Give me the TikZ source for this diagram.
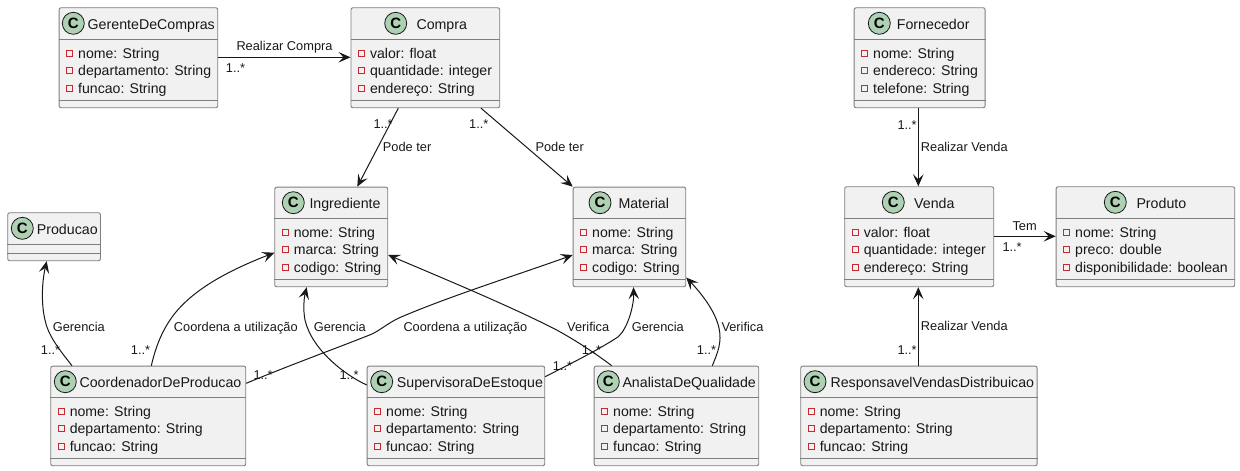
\documentclass[tikz,border=0pt]{standalone}
\usepackage{fontspec}
\setmainfont{Liberation Sans}
\newfontfamily\umlfont{Liberation Sans}
\usetikzlibrary{arrows.meta}
\definecolor{boxfill}{HTML}{F1F1F1}
\definecolor{boxline}{HTML}{7E7E7E}
\definecolor{ink}{HTML}{181818}
\definecolor{spot}{HTML}{ADD1B2}
\definecolor{vis}{HTML}{C82930}
\tikzset{
  umlbox/.style={draw=boxline,fill=boxfill,line width=.9pt,rounded corners=2pt,inner sep=0pt,anchor=north west},
  spotc/.style={circle,draw=ink,fill=spot,line width=.8pt,minimum size=22pt,inner sep=0pt,font=\umlfont\bfseries\fontsize{15}{15}\selectfont,text=black},
  titletext/.style={anchor=base west,inner sep=0pt,text=ink,font=\umlfont\fontsize{14.2}{14}\selectfont},
  membertext/.style={anchor=base west,inner sep=0pt,text=ink,font=\umlfont\fontsize{14.1}{14}\selectfont},
  visicon/.style={draw=vis,line width=.9pt,rectangle,minimum size=5.6pt,inner sep=0pt},
  lbl/.style={anchor=base west,inner sep=0pt,text=ink,font=\umlfont\fontsize{12.8}{13}\selectfont},
  assoc/.style={draw=ink,line width=1pt,-{Stealth[length=12pt,width=10.5pt,inset=5pt]}},
  seprule/.style={draw=boxline,line width=.9pt}
}
% name, x1, y1, x2, y2, spot centre x, title x, title
\newcommand{\umlclass}[8]{%
  \node[umlbox,minimum width={(#4-#2)*1pt},minimum height={(#5-#3)*1pt}] (#1) at (#2,#3) {};
  \draw[seprule] ([yshift=-32pt]#1.north west) -- ([yshift=-32pt]#1.north east);
  \draw[seprule] ([yshift=8pt]#1.south west) -- ([yshift=8pt]#1.south east);
  \node[spotc] (#1-spot) at (#6,#3+16) {C};
  \node[titletext] (#1-title) at (#7,#3+21.8) {#8};
}
% name, row suffix, offset from top to icon centre, offset to baseline, text
\newcommand{\umlmember}[5]{%
  \node[visicon] (#1-i#2) at ([shift={(11,#3)}]#1.north west) {};
  \node[membertext] (#1-m#2) at ([shift={(19.3,#4)}]#1.north west) {#5};
}
\newcommand{\threemembers}[4]{%
  \umlmember{#1}{a}{46}{51}{#2}
  \umlmember{#1}{b}{63}{67.8}{#3}
  \umlmember{#1}{c}{81}{86}{#4}
}
\begin{document}
\begin{tikzpicture}[x=1pt,y=-1pt]
\useasboundingbox (0,0) rectangle (1240,471);

\umlclass{gerente}{58.7}{7.3}{217.3}{107.3}{73.3}{87.5}{GerenteDeCompras}
\threemembers{gerente}{nome: String}{departamento: String}{funcao: String}
\umlclass{compra}{350.5}{7.3}{499.3}{107.3}{395.7}{416.3}{Compra}
\threemembers{compra}{valor: float}{quantidade: integer}{endereço: String}
\umlclass{fornecedor}{853.7}{7.3}{984.7}{107.3}{879.3}{896.7}{Fornecedor}
\threemembers{fornecedor}{nome: String}{endereco: String}{telefone: String}
\umlclass{producao}{7.3}{212.3}{100}{260.3}{22.3}{36.7}{Producao}
\umlclass{ingrediente}{274.3}{186.7}{387.3}{286.3}{293.3}{309.3}{Ingrediente}
\threemembers{ingrediente}{nome: String}{marca: String}{codigo: String}
\umlclass{material}{572.7}{186.7}{685.3}{286.3}{600}{618.3}{Material}
\threemembers{material}{nome: String}{marca: String}{codigo: String}
\umlclass{venda}{844.3}{186.3}{993.3}{286.3}{893.3}{914}{Venda}
\threemembers{venda}{valor: float}{quantidade: integer}{endereço: String}
\umlclass{produto}{1055.7}{186.3}{1234.3}{286.3}{1115.3}{1136.3}{Produto}
\threemembers{produto}{nome: String}{preco: double}{disponibilidade: boolean}
\umlclass{coord}{50.3}{365.7}{245.3}{465.3}{65.3}{79.3}{CoordenadorDeProducao}
\threemembers{coord}{nome: String}{departamento: String}{funcao: String}
\umlclass{superv}{366.7}{365.7}{544.3}{465.3}{381.7}{396.7}{SupervisoraDeEstoque}
\threemembers{superv}{nome: String}{departamento: String}{funcao: String}
\umlclass{analista}{593.7}{365.7}{758.3}{465.3}{608.3}{622.3}{AnalistaDeQualidade}
\threemembers{analista}{nome: String}{departamento: String}{funcao: String}
\umlclass{resp}{800.3}{365.7}{1036.7}{465.3}{815}{830.3}{ResponsavelVendasDistribuicao}
\threemembers{resp}{nome: String}{departamento: String}{funcao: String}

% connectors
\draw[assoc] ([yshift=-50pt]gerente.north east) -- ([yshift=-50pt]compra.north west);
\draw[assoc] ([xshift=47.8pt]compra.south west) -- ([xshift=83pt]ingrediente.north west);
\draw[assoc] ([xshift=130.5pt]compra.south west) -- (material.north west);
\draw[assoc] ([xshift=64.6pt]fornecedor.south west) -- ([xshift=74pt]venda.north west);
\draw[assoc] ([yshift=-50pt]venda.north east) -- ([yshift=-50pt]produto.north west);
\draw[assoc] ([xshift=118pt]resp.north west) -- ([xshift=74pt]venda.south west);

\draw[assoc] ([xshift=21.7pt]coord.north west) .. controls (58,348) and (48,335) .. (45,320) .. controls (41,303) and (42,282) .. ([xshift=39.4pt]producao.south west);
\draw[assoc] ([xshift=101pt]coord.north west) .. controls (155,350) and (160,335) .. (170,320) .. controls (190,290) and (230,270) .. ([yshift=-66pt]ingrediente.north west);
\draw[assoc] ([yshift=-17.6pt]coord.north east) .. controls (290,365) and (345,345) .. (372,334) .. controls (382,329) and (388,323) .. (400,317.5) .. controls (450,296) and (520,274) .. ([yshift=-68.3pt]material.north west);
\draw[assoc] ([yshift=-19.3pt]superv.north west) .. controls (345,375) and (312,350) .. (305,320) .. controls (303,310) and (304,298) .. ([xshift=32.4pt]ingrediente.south west);
\draw[assoc] ([yshift=-11pt]superv.north east) .. controls (570,364) and (600,349) .. (618.3,336.7) .. controls (628,328) and (634,305) .. ([xshift=60.8pt]material.south west);
\draw[assoc] ([xshift=18pt]analista.north west) .. controls (595,353) and (575,340) .. (556.7,330) .. controls (510,306) and (440,277) .. ([yshift=-68.3pt]ingrediente.north east);
\draw[assoc] ([xshift=118.6pt]analista.north west) .. controls (718,352) and (722,342) .. (719,328) .. controls (715,310) and (700,292) .. ([yshift=9.7pt]material.south east);

% labels
\node[lbl] (l1) at (236.3,50.7) {Realizar Compra};
\node[lbl] (c1) at (225.7,72.3) {1..*};
\node[lbl] (l2) at (382.7,151.7) {Pode ter};
\node[lbl] (c2) at (373.3,128.3) {1..*};
\node[lbl] (l3) at (535.3,151.7) {Pode ter};
\node[lbl] (c3) at (469,128.3) {1..*};
\node[lbl] (l4) at (920.7,151.7) {Realizar Venda};
\node[lbl] (c4) at (897.3,129.3) {1..*};
\node[lbl] (l5) at (1012.3,230) {Tem};
\node[lbl] (c5) at (1002.3,251) {1..*};
\node[lbl] (l6) at (920.7,330.7) {Realizar Venda};
\node[lbl] (c6) at (897.3,354) {1..*};
\node[lbl] (l7) at (52.7,331) {Gerencia};
\node[lbl] (c7) at (40.7,354.3) {1..*};
\node[lbl] (l8) at (173.7,331) {Coordena a utilização};
\node[lbl] (c8) at (130.7,354.3) {1..*};
\node[lbl] (l9) at (403.3,331) {Coordena a utilização};
\node[lbl] (c9) at (253.3,379) {1..*};
\node[lbl] (l10) at (313.7,331) {Gerencia};
\node[lbl] (c10) at (339.3,379) {1..*};
\node[lbl] (l11) at (631.7,331) {Gerencia};
\node[lbl] (c11) at (552.7,370) {1..*};
\node[lbl] (l12) at (567,331) {Verifica};
\node[lbl] (c12) at (581.7,354) {1..*};
\node[lbl] (l13) at (721.3,331) {Verifica};
\node[lbl] (c13) at (696.7,354) {1..*};
\end{tikzpicture}
\end{document}
